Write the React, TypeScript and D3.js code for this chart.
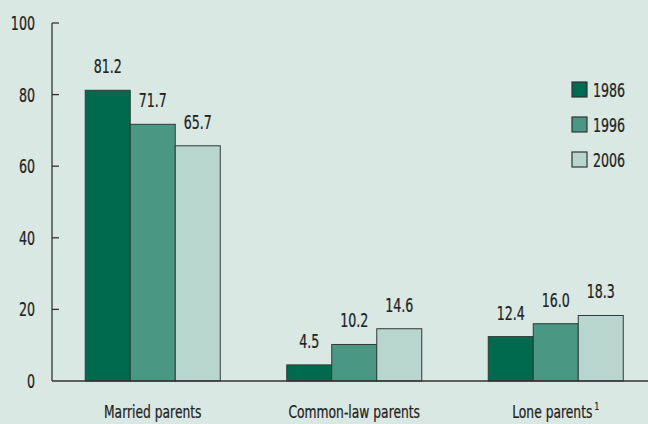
import React from "react";
import * as d3 from "d3";

const categories = ["Married parents", "Common-law parents", "Lone parents"];
const seriesNames = ["1986", "1996", "2006"];
const values1986 = [81.2, 4.5, 12.4];
const values1996 = [71.7, 10.2, 16.0];
const values2006 = [65.7, 14.6, 18.3];
const yTicks = [0, 20, 40, 60, 80, 100];
const colors = ["#006a4f", "#4a9884", "#b9d6ce"];

const W = 648, H = 424;
const FONT = "'DejaVu Sans Condensed', 'DejaVu Sans', sans-serif";
const SX = 0.74;

function Txt({ x, y, anchor = "start", size = 19, children }: any) {
  return (
    <text transform={`translate(${x},${y}) scale(${SX},1)`} textAnchor={anchor} fontSize={size} fill="#222" stroke="#222" strokeWidth={0.25}>
      {children}
    </text>
  );
}

export default function App() {
  const series = [values1986, values1996, values2006];
  const y = d3.scaleLinear().domain([0, 100]).range([381, 23]);
  const x0 = d3.scaleBand().domain(categories).range([52, 656.5]).paddingInner(0).paddingOuter(0);
  const groupW = 135;
  const x1 = d3.scaleBand().domain(seriesNames).range([0, groupW]).padding(0);
  return (
    <svg width={W} height={H} style={{ position: "absolute", left: 0, top: 0, background: "#d9e8e3" }} fontFamily={FONT}>
      <rect x={0} y={0} width={W} height={H} fill="#d9e8e3" />
      {categories.map((c, ci) => {
        const cx = (x0(c) as number) + x0.bandwidth() / 2;
        const gx = cx - groupW / 2;
        return (
          <g key={c}>
            {seriesNames.map((s, si) => {
              const v = series[si][ci];
              const bx = gx + (x1(s) as number);
              return (
                <g key={s}>
                  <rect x={bx} y={y(v)} width={x1.bandwidth()} height={y(0) - y(v)} fill={colors[si]} stroke="#2e3b36" strokeWidth={1} />
                  <Txt x={bx + x1.bandwidth() / 2} y={y(v) - 17} anchor="middle">{v.toFixed(1)}</Txt>
                </g>
              );
            })}
            <Txt x={cx} y={418} anchor="middle" size={18.5}>
              {c}
              {ci === 2 ? <tspan dx={3} dy={-8} fontSize={11}>{"1"}</tspan> : null}
            </Txt>
          </g>
        );
      })}
      <line x1={52} x2={648} y1={y(0)} y2={y(0)} stroke="#333" strokeWidth={1.3} />
      <line x1={52} x2={52} y1={y(100)} y2={y(0)} stroke="#333" strokeWidth={1.3} />
      {yTicks.map((t) => (
        <g key={t}>
          {t > 0 && <line x1={52} x2={59} y1={y(t)} y2={y(t)} stroke="#333" strokeWidth={1.3} />}
          <Txt x={35} y={y(t) + 7} anchor="end">{t}</Txt>
        </g>
      ))}
      {seriesNames.map((s, si) => (
        <g key={s} transform={`translate(572, ${82 + si * 35})`}>
          <rect x={0} y={0} width={15} height={15} fill={colors[si]} stroke="#333" strokeWidth={1.2} />
          <Txt x={21} y={15}>{s}</Txt>
        </g>
      ))}
    </svg>
  );
}
